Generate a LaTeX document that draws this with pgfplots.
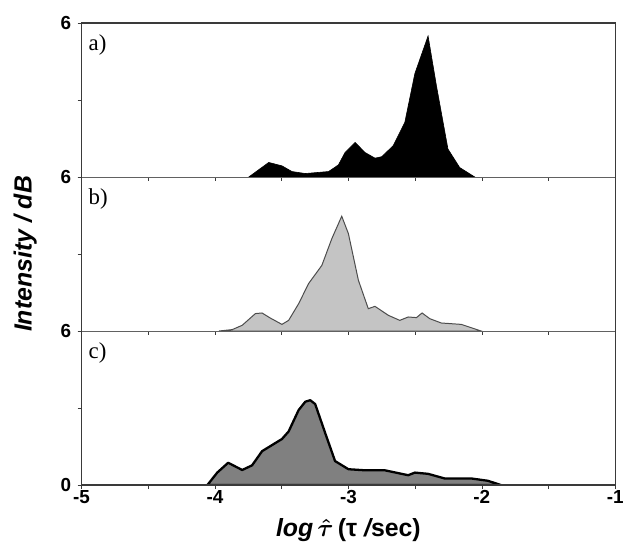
\documentclass[border=0pt]{standalone}
\usepackage{amsmath}
\usepackage{pgfplots}
\pgfplotsset{compat=1.18}
\usepgfplotslibrary{groupplots}
\usepackage{fontspec}
\setmainfont{Liberation Sans}
\newfontfamily\tnr{Liberation Serif}

\definecolor{lightfill}{HTML}{C4C4C4}
\definecolor{midfill}{HTML}{808080}
\definecolor{frame}{HTML}{3A3A3A}

\begin{document}
\begin{tikzpicture}
\begin{groupplot}[
group style={group name=G, group size=1 by 3, vertical sep=0pt, xticklabels at=edge bottom},
scale only axis,
width=537pt, height=155pt,
xmin=-5, xmax=-1, ymin=0, ymax=1,
xtick={-5,-4.5,-4,-3.5,-3,-2.5,-2,-1.5,-1},
xticklabels={-5,,-4,,-3,,-2,,-1},
ytick={0,0.5,1},
tick align=outside,
major tick length=4pt,
xtick pos=bottom, ytick pos=left,
tick style={draw=frame, line width=0.7pt},
axis line style={draw=frame!80, line width=0.7pt},
tick label style={font=\fontsize{19}{22}\selectfont\bfseries},
xticklabel style={yshift=2pt},
yticklabel style={xshift=-3pt},
label style={font=\fontsize{25}{29}\selectfont\bfseries},
]
\nextgroupplot[yticklabels={6,,6}]
\addplot[fill=black, draw=black, line width=0.6pt] coordinates {
(-3.746,0) (-3.597,0.094) (-3.498,0.072) (-3.423,0.035) (-3.323,0.022)
(-3.149,0.035) (-3.075,0.078) (-3.025,0.159) (-2.950,0.224) (-2.876,0.159)
(-2.801,0.122) (-2.751,0.131) (-2.664,0.203) (-2.577,0.355) (-2.502,0.671)
(-2.403,0.915) (-2.341,0.595) (-2.254,0.181) (-2.166,0.061) (-2.054,0)
} \closedcycle;
\node[anchor=north west, inner sep=0pt, font=\tnr\fontsize{23}{26}\selectfont] at (rel axis cs:0,1) [xshift=7pt, yshift=-12pt] {a)};

\nextgroupplot[yticklabels={6,,}, ylabel={\itshape Intensity / dB}, ylabel style={yshift=17pt}]
\addplot[fill=lightfill, draw=black!70, line width=1pt] coordinates {
(-3.970,0) (-3.871,0.009) (-3.796,0.037) (-3.697,0.113) (-3.647,0.117)
(-3.585,0.084) (-3.498,0.043) (-3.448,0.069) (-3.373,0.177) (-3.299,0.307)
(-3.199,0.426) (-3.124,0.600) (-3.050,0.745) (-3.000,0.632) (-2.925,0.329)
(-2.851,0.145) (-2.801,0.160) (-2.701,0.102) (-2.615,0.069) (-2.552,0.091)
(-2.490,0.087) (-2.448,0.117) (-2.390,0.080) (-2.304,0.052) (-2.154,0.043)
(-2.005,0)
} \closedcycle;
\node[anchor=north west, inner sep=0pt, font=\tnr\fontsize{23}{26}\selectfont] at (rel axis cs:0,1) [xshift=7pt, yshift=-12pt] {b)};

\nextgroupplot[yticklabels={0,,}, xlabel={\itshape log\,$\boldsymbol{\hat{\tau}}$\,\upshape(τ \itshape/\upshape sec)}, xlabel style={yshift=-8pt}]
\addplot[fill=midfill, draw=black, line width=2.3pt, line join=round] coordinates {
(-4.057,0) (-3.983,0.081) (-3.901,0.145) (-3.796,0.098) (-3.722,0.128)
(-3.647,0.220) (-3.498,0.299) (-3.448,0.348) (-3.373,0.487) (-3.323,0.541)
(-3.286,0.551) (-3.249,0.526) (-3.174,0.338) (-3.100,0.156) (-3.000,0.103)
(-2.876,0.096) (-2.727,0.096) (-2.552,0.064) (-2.502,0.081) (-2.403,0.073)
(-2.279,0.043) (-2.080,0.043) (-1.955,0.028) (-1.856,0)
} \closedcycle;
\node[anchor=north west, inner sep=0pt, font=\tnr\fontsize{23}{26}\selectfont] at (rel axis cs:0,1) [xshift=7pt, yshift=-12pt] {c)};
\end{groupplot}
\draw[frame, line width=1.4pt] (G c1r3.south west) rectangle (G c1r1.north east);
\path ([xshift=-82pt,yshift=-66pt]G c1r3.south west) rectangle ([xshift=10pt,yshift=23pt]G c1r1.north east);
\end{tikzpicture}
\end{document}
